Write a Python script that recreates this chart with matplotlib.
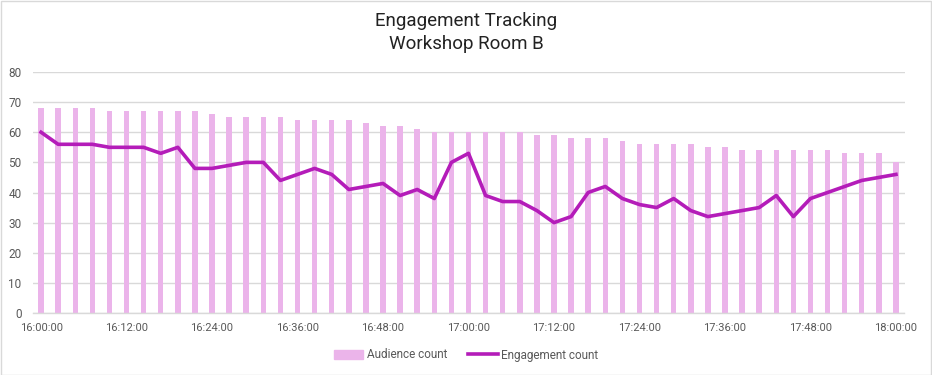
import matplotlib
matplotlib.use('Agg')
import matplotlib.pyplot as plt
import matplotlib.patches as patches
from matplotlib.lines import Line2D

# --- Data (one sample every ~2.4 min, 16:00 to 18:00) ---
audience = [68, 68, 68, 68, 67, 67, 67, 67, 67, 67,
            66, 65, 65, 65, 65, 64, 64, 64, 64, 63,
            62, 62, 61, 60, 60, 60, 60, 60, 60, 59,
            59, 58, 58, 58, 57, 56, 56, 56, 56, 55,
            55, 54, 54, 54, 54, 54, 54, 53, 53, 53, 50]
engagement = [60, 56, 56, 56, 55, 55, 55, 53, 55, 48,
              48, 49, 50, 50, 44, 46, 48, 46, 41, 42,
              43, 39, 41, 38, 50, 53, 39, 37, 37, 34,
              30, 32, 40, 42, 38, 36, 35, 38, 34, 32,
              33, 34, 35, 39, 32, 38, 40, 42, 44, 45, 46]
tick_labels = ['16:00:00', '16:12:00', '16:24:00', '16:36:00', '16:48:00', '17:00:00',
               '17:12:00', '17:24:00', '17:36:00', '17:48:00', '18:00:00']
y_ticks = [0, 10, 20, 30, 40, 50, 60, 70, 80]

bar_color = '#EBB4EA'
line_color = '#B41CB9'
text_gray = '#595959'

plt.rcParams['font.family'] = ['Roboto', 'DejaVu Sans']

fig = plt.figure(figsize=(9.32, 3.75), dpi=100)
W, H = 932, 375
ax = fig.add_axes([32.5 / W, 1 - 313 / H, (904.5 - 32.5) / W, (313 - 72) / H])

x = list(range(len(audience)))
ax.bar(x, audience, width=0.32, color=bar_color, zorder=2)
ax.plot(x, engagement, color=line_color, lw=2.6, zorder=3, solid_joinstyle='round')

ax.set_xlim(-0.5, len(audience) - 0.5)
ax.set_ylim(0, 80)
ax.set_yticks(y_ticks)
ax.set_yticklabels([str(v) for v in y_ticks], color=text_gray, fontsize=8.5)
ax.set_xticks(list(range(0, len(audience), 5)))
ax.set_xticklabels(tick_labels, color=text_gray, fontsize=8)
ax.tick_params(axis='both', length=0)
ax.tick_params(axis='x', pad=7)
ax.tick_params(axis='y', pad=8)

ax.grid(axis='y', color='#D9D9D9', lw=1, zorder=0)
ax.set_axisbelow(True)
for side in ['top', 'right', 'left']:
    ax.spines[side].set_visible(False)
ax.spines['bottom'].set_color('#D9D9D9')
ax.spines['bottom'].set_linewidth(1)

fig.text(0.5, 1 - 21 / H, 'Engagement Tracking', ha='center', va='center', fontsize=13.5, color='#222222')
fig.text(0.5, 1 - 44 / H, 'Workshop Room B', ha='center', va='center', fontsize=13.5, color='#222222')

handles = [patches.Patch(color=bar_color, label='Audience count'),
           Line2D([0], [0], color=line_color, lw=2.6, label='Engagement count')]
fig.legend(handles=handles, loc='center', bbox_to_anchor=(0.5, 1 - 355 / H), ncol=2, frameon=False,
           fontsize=8.5, labelcolor=text_gray, handlelength=2.5, columnspacing=1.8, handletextpad=0.3)

# outer chart border
fig.patches.append(patches.Rectangle((0.5 / W, 0.5 / H), 1 - 1.5 / W, 1 - 1.5 / H, transform=fig.transFigure,
                                     fill=False, edgecolor='#D9D9D9', lw=1))

fig.savefig('out.png', dpi=100)
